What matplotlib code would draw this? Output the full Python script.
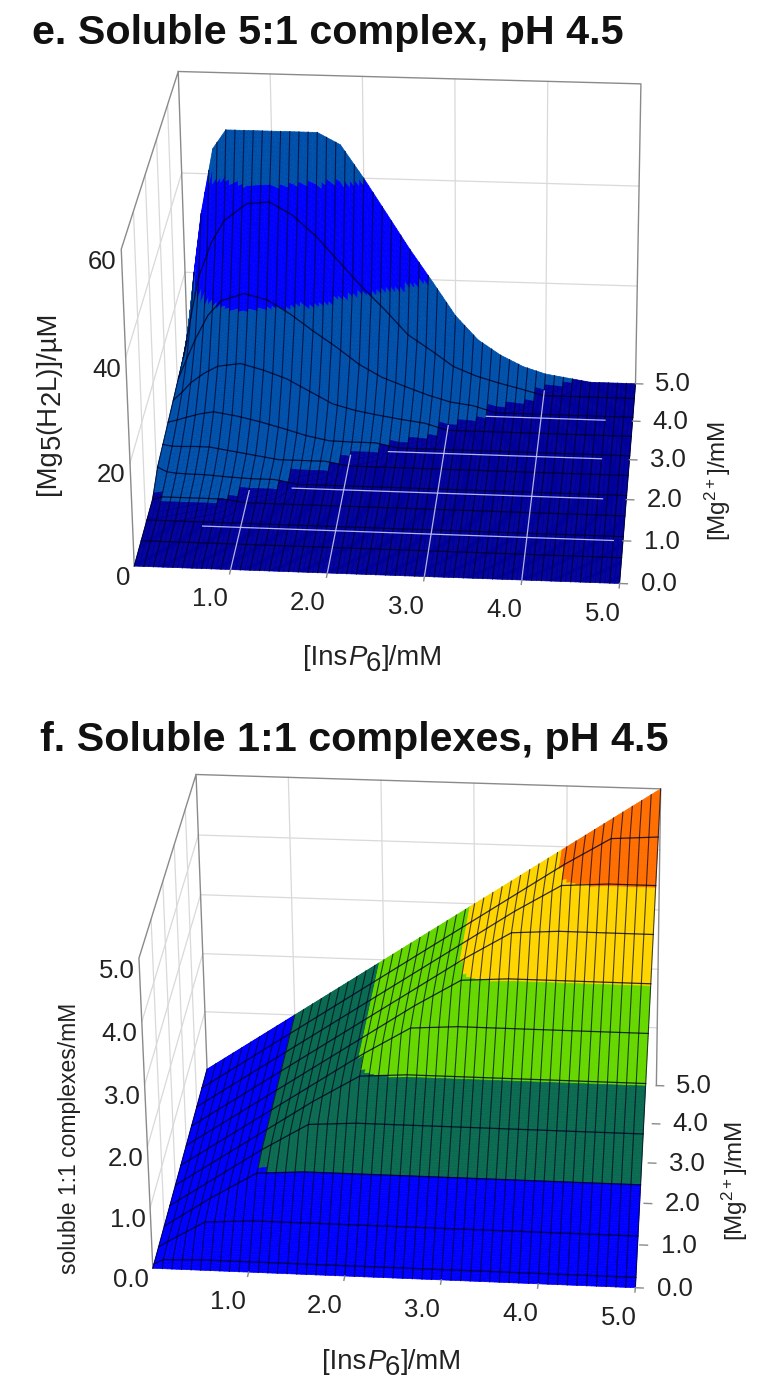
import numpy as np
import matplotlib
matplotlib.use("Agg")
import matplotlib.pyplot as plt
from mpl_toolkits.mplot3d import proj3d

W, H = 779, 1390
plt.rcParams["font.family"] = ["Liberation Sans", "DejaVu Sans"]
plt.rcParams["mathtext.fontset"] = "custom"
plt.rcParams["mathtext.rm"] = "Liberation Sans"
plt.rcParams["mathtext.it"] = "Liberation Sans:italic"

# panel e: values, one row per y slice
e_x = [0, .1, .2, .35, .5, .75, 1, 1.25, 1.5, 1.75, 2, 2.25, 2.5, 2.75, 3, 3.25, 3.5, 3.75, 4, 4.25, 4.5, 5]
e_y = [0, .6, 1.1, 1.6, 2.1, 2.6, 3.1, 3.6, 4.1, 4.6, 5]
e_z = [
    [0] * 22,
    [0] * 22,
    [0] * 22,
    [0, .6, .6, .6, .6, .6, 0, 0, 0, 0, 0, 0, 0, 0, 0, 0, 0, 0, 0, 0, 0, 0],
    [2.5, 1.6, 1.4, 1.3, 1.3, 1.0, .8, .8, 0, 0, 0, 0, 0, 0, 0, 0, 0, 0, 0, 0, 0, 0],
    [3.1, 2.8, 2.8, 2.9, 2.9, 2.2, 1.5, .8, .8, .8, 0, 0, 0, 0, 0, 0, 0, 0, 0, 0, 0, 0],
    [3.7, 4.2, 4.8, 5.6, 6.1, 5.4, 4.4, 3.2, 1.9, 1.0, .9, .9, 0, 0, 0, 0, 0, 0, 0, 0, 0, 0],
    [4.3, 6, 8, 10, 11.5, 12.2, 11, 9.4, 7, 4.6, 3.4, 2.6, 1.9, 1.3, 0, 0, 0, 0, 0, 0, 0, 0],
    [4.9, 9, 13, 18, 21, 22.6, 21.5, 18.8, 15.5, 12.4, 9, 6.5, 4.8, 3.2, 1.9, 1.3, 0, 0, 0, 0, 0, 0],
    [5.5, 14, 22, 29, 33.5, 37, 37.5, 35, 31, 26, 21, 16.5, 11.6, 8.6, 5.4, 3.6, 2.3, 1.2, 0, 0, 0, 0],
    [6, 20, 32, 45, 48.8, 48.8, 48.8, 48.8, 48.8, 46.5, 40, 33, 26, 19.5, 12.8, 8, 5, 2.8, 1.4, .7, 0, 0],
]
e_levels = [0.5, 20, 40]
e_colors = ["#00009a", "#0050aa", "#0000ff", "#0050aa"]
# pale floor grid lines over the flat part: y value, where they start and stop in x
e_floor_y = [1, 2, 3, 4]
e_floor_start = [.6, 1.45, 2.4, 3.4]
e_floor_end = [4.9, 4.75, 4.7, 4.7]

# panel f
f_x = [0, .1, .5, 1, 1.5, 2, 2.5, 3, 3.5, 4, 4.5, 5]
f_y = [0, .1, .5, 1, 1.5, 2, 2.5, 3, 3.5, 4, 4.5, 5]
f_z = [
    [0, 0, 0, 0, 0, 0, 0, 0, 0, 0, 0, 0],
    [0, .08, .1, .1, .1, .1, .1, .1, .1, .1, .1, .1],
    [0, .1, .45, .5, .5, .5, .5, .5, .5, .5, .5, .5],
    [0, .1, .5, .95, 1, 1, 1, 1, 1, 1, 1, 1],
    [0, .1, .5, 1, 1.45, 1.5, 1.5, 1.5, 1.5, 1.5, 1.5, 1.5],
    [0, .1, .5, 1, 1.5, 1.95, 2, 2, 2, 2, 2, 2],
    [0, .1, .5, 1, 1.5, 2, 2.45, 2.5, 2.5, 2.5, 2.5, 2.5],
    [0, .1, .5, 1, 1.5, 2, 2.5, 2.95, 3, 3, 3, 3],
    [0, .1, .5, 1, 1.5, 2, 2.5, 3, 3.45, 3.5, 3.5, 3.5],
    [0, .1, .5, 1, 1.5, 2, 2.5, 3, 3.5, 3.95, 4, 4],
    [0, .1, .5, 1, 1.5, 2, 2.5, 3, 3.5, 4, 4.45, 4.5],
    [0, .1, .5, 1, 1.5, 2, 2.5, 3, 3.5, 4, 4.5, 5],
]
f_levels = [.97, 1.97, 2.97, 3.97]
f_colors = ["#0000ff", "#0b6b50", "#66d800", "#ffd500", "#ff6e00"]

x_ticks = [1, 2, 3, 4, 5]
y_ticks = [0, 1, 2, 3, 4, 5]
e_zticks = [0, 20, 40, 60]
f_zticks = [0, 1, 2, 3, 4, 5]

# view: elev, azim, roll, focal length, y aspect, z aspect; box: left, top, width, height in pixels
view_e = (26.974, -84.805, 0.575, 1.167, 0.877, 0.727)
box_e = (33.3, -20.2, 699.7, 699.7)
view_f = (28.723, -84.122, 0.796, 1.279, 0.846, 0.727)
box_f = (55.3, 688.5, 691.7, 691.7)


def refine(tx, ty, tz, mx, my):
    # split the facets of the read table so mesh lines and band edges can be drawn on them
    tz = np.array(tz, float)
    rows = np.array([np.interp(mx, tx, r) for r in tz])
    return np.array([np.interp(my, ty, rows[:, j]) for j in range(len(mx))]).T


def cell_mean(z):
    return (z[:-1, :-1] + z[1:, :-1] + z[:-1, 1:] + z[1:, 1:]) / 4


def draw_panel(fig, view, box, tx, ty, tz, levels, colors, zmax, zticks, zfmt, floor=None):
    l, t, w, h = box
    ax = fig.add_axes([l / W, 1 - (t + h) / H, w / W, h / H], projection="3d", computed_zorder=False)
    ax.set_xlim(0, 5)
    ax.set_ylim(0, 5)
    ax.set_zlim(0, zmax)
    el, az, ro, fl, ay, azz = view
    ax.view_init(el, az, ro)
    ax.set_proj_type("persp", focal_length=fl)
    ax.set_box_aspect((1, ay, azz))
    ax.set_axis_off()
    M = ax.get_proj()

    def label(x, y, z, s, **kw):
        u, v, _ = proj3d.proj_transform(np.array([x]), np.array([y]), np.array([z]), M)
        ax.text2D(u[0], v[0], s, transform=ax.transData, fontsize=18.5, color="#222222", va="center", **kw)

    grid = dict(color="#d9d9d9", lw=0.9, zorder=1)
    edge = dict(color="#8a8a8a", lw=1.0, zorder=2)
    for g in x_ticks[:-1]:
        ax.plot([g, g], [5, 5], [0, zmax], **grid)
    for g in y_ticks[1:-1]:
        ax.plot([0, 0], [g, g], [0, zmax], **grid)
    for g in zticks[1:-1]:
        ax.plot([0, 5], [5, 5], [g, g], **grid)
        ax.plot([0, 0], [0, 5], [g, g], **grid)
    ax.plot([0, 5, 5], [5, 5, 5], [zmax, zmax, 0], **edge)
    ax.plot([0, 0, 0, 0], [0, 0, 5, 5], [0, zmax, zmax, 0], **edge)

    # fill on a fine mesh, flat band from the 0.1 cells so its edge keeps the stair steps
    mx = np.linspace(0, 5, 101)
    my = np.linspace(0, 5, 201)
    Z = refine(tx, ty, tz, mx, my)
    X, Y = np.meshgrid(mx, my)
    band = np.digitize(cell_mean(Z), levels)
    coarse = cell_mean(Z[::4, ::2]) >= levels[0]
    high = np.repeat(np.repeat(coarse, 4, axis=0), 2, axis=1)
    band = np.where(high, np.maximum(band, 1), 0)
    rgba = np.array([matplotlib.colors.to_rgba(c) for c in colors])
    fc = rgba[band]
    surf = ax.plot_surface(X, Y, Z, facecolors=fc, rstride=1, cstride=1, shade=False, linewidth=0.5, zorder=3)
    surf.set_edgecolor(fc.reshape(-1, 4))

    for j in range(0, len(mx), 2):
        ax.plot(X[:, j], Y[:, j], Z[:, j], color="#000022", lw=0.8, alpha=0.7, zorder=4)
    for v in ty[1:-1]:
        zr = refine(tx, ty, tz, mx, np.array([v]))[0]
        ax.plot(mx, np.full_like(mx, v), zr, color="#000022", lw=0.9, alpha=0.8, zorder=5)

    if floor is not None:
        low = dict(color="#c8c8ff", lw=0.9, alpha=0.9, zorder=6)
        for g in x_ticks[:-1]:
            j = np.argmin(abs(mx - g))
            ax.plot(X[:, j], Y[:, j], np.where(Z[:, j] < levels[0], 0, np.nan), **low)
        for g, a, b in zip(*floor):
            ax.plot([a, b], [g, g], [0, 0], **low)

    for g in x_ticks:
        ax.plot([g, g], [0, -0.1], [0, 0], color="#8a8a8a", lw=1, zorder=7)
        label(g - 0.14, -0.7, 0, "%.1f" % g, ha="center")
    for g in y_ticks:
        ax.plot([5, 5.08], [g, g], [0, 0], color="#8a8a8a", lw=1, zorder=7)
        label(5.22, g, 0, "%.1f" % g, ha="left")
    for g in zticks:
        label(-0.05, 0, g - zmax * 0.04, zfmt % g, ha="right")
    return ax


fig = plt.figure(figsize=(W / 100, H / 100), dpi=100)
draw_panel(fig, view_e, box_e, e_x, e_y, e_z, e_levels, e_colors, 60, e_zticks, "%d",
           floor=(e_floor_y, e_floor_start, e_floor_end))
draw_panel(fig, view_f, box_f, f_x, f_y, f_z, f_levels, f_colors, 5, f_zticks, "%.1f")


def px_text(x, y, s, **kw):
    return fig.text(x / W, 1 - y / H, s, **kw)


def run_text(cx, cy, pieces, rotation=0, fontsize=19.8):
    # label made of pieces, digits stay full size and only drop below the line
    rend = fig.canvas.get_renderer()
    widths = []
    for s, style, drop in pieces:
        tmp = fig.text(0, 0, s, fontsize=fontsize, style=style)
        widths.append(tmp.get_window_extent(rend).width)
        tmp.remove()
    pos = -sum(widths) / 2
    for (s, style, drop), wd in zip(pieces, widths):
        if rotation == 90:
            x, y = cx + drop, cy - pos
        else:
            x, y = cx + pos, cy + drop
        px_text(x, y, s, fontsize=fontsize, style=style, rotation=rotation, rotation_mode="anchor",
                ha="left", va="baseline", color="#222222")
        pos += wd


title = dict(fontsize=29.7, fontweight="bold", va="center", color="#111111")
px_text(32, 33, "e. Soluble 5:1 complex, pH 4.5", **title)
px_text(40, 740, "f. Soluble 1:1 complexes, pH 4.5", **title)

ins = [("[Ins", "normal", 0), ("P", "italic", 0), ("6", "normal", 6), ("]/mM", "normal", 0)]
run_text(373, 665, ins)
run_text(392, 1369, ins)
run_text(55, 403, [("[Mg", "normal", 0), ("5", "normal", 5), ("(H", "normal", 0), ("2", "normal", 5),
                   ("L)]/µM", "normal", 0)], rotation=90)

lab = dict(color="#222222", ha="center", va="center")
mg = r"[Mg$^{2+}$]/mM"
px_text(718, 481, mg, rotation=90, fontsize=17.5, **lab)
px_text(735, 1181, mg, rotation=90, fontsize=17.5, **lab)
px_text(70, 1138, "soluble 1:1 complexes/mM", rotation=90, fontsize=16.5, **lab)

fig.savefig("out.png", dpi=100)
